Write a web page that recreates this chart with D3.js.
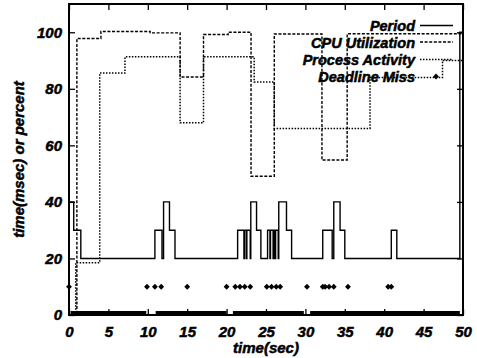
<!DOCTYPE html>
<html>
<head>
<meta charset="utf-8">
<script src="https://cdn.jsdelivr.net/npm/d3@7"></script>
<style>
  body { margin: 0; background: #fff; }
  svg { display: block; }
  text { font-family: "Liberation Sans", Arial, sans-serif; font-weight: bold; font-style: italic;
         stroke: #000; stroke-width: 0.5px; }
</style>
</head>
<body>
<div id="chart"></div>
<script>
const width = 477, height = 358;
const margin = { top: 4, right: 14, bottom: 43, left: 69 };

// step series: [time(sec), value] - value holds until the next point
const period = [[0,40],[0.6,30],[1.5,20],[10.9,30],[11.8,20],[12.0,40],[12.75,30],[13.45,20],
  [21.4,30],[22.2,20],[22.27,30],[22.5,20],[22.57,30],[23.0,20],[23.07,40],[23.8,30],[24.35,20],
  [25.2,30],[25.5,20],[25.57,30],[25.9,20],[25.97,30],[26.15,20],[26.22,30],[26.55,20],[26.62,40],
  [27.6,30],[28.25,20],[32.2,30],[33.4,20],[33.6,40],[34.4,30],[35.0,20],[40.9,30],[41.6,20],
  [49.6,100],[50,100]];
const cpu = [[0,0],[1.0,97.8],[4.05,100.3],[10.3,99.8],[14.1,84.2],[17.07,99.2],[20.2,100],
  [23.1,49.1],[26.05,99.4],[32.1,54.8],[35.3,99.5],[50,99.5]];
const activity = [[0,0],[0.85,18.5],[3.9,85.6],[7.1,91.3],[14.1,68],[17.07,91.3],[23.5,82.4],
  [26.05,66],[38.2,84],[47.4,90],[50,90]];
// deadline misses (plotted at 10) and stretches of met deadlines (plotted at 0)
const missTimes = [0, 9.9, 10.9, 11.7, 15.0, 20.0, 21.1, 21.7, 22.3, 23.0, 25.1, 25.7, 26.3, 26.8,
  30.2, 32.2, 32.5, 33.0, 33.6, 35.4, 40.5, 40.9];
const missValue = 10;
const metRanges = [[0.2, 9.8], [11.0, 20.0], [20.8, 29.8], [30.6, 49.6]];

const xTicks = [0, 5, 10, 15, 20, 25, 30, 35, 40, 45, 50];
const yTicks = [0, 20, 40, 60, 80, 100];
const legendLabels = ["Period", "CPU Utilization", "Process Activity", "Deadline Miss"];

const svg = d3.select("#chart").append("svg")
  .attr("width", width)
  .attr("height", height);

const x = d3.scaleLinear().domain([0, 50]).range([margin.left, width - margin.right]);
const y = d3.scaleLinear().domain([0, 110]).range([height - margin.bottom, margin.top]);

svg.append("clipPath").attr("id", "plot")
  .append("rect")
  .attr("x", x(0)).attr("y", y(110))
  .attr("width", x(50) - x(0)).attr("height", y(0) - y(110));

// axes with inward ticks, mirrored on top and right
const styleAxis = g => {
  g.select(".domain").remove();
  g.selectAll(".tick line").attr("stroke", "#000").attr("stroke-width", 1.3);
  g.selectAll("text").attr("font-size", 15).attr("fill", "#000");
};
svg.append("g")
  .attr("transform", `translate(0,${y(0)})`)
  .call(d3.axisBottom(x).tickValues(xTicks).tickSize(-6).tickPadding(11))
  .call(styleAxis);
svg.append("g")
  .attr("transform", `translate(0,${y(110)})`)
  .call(d3.axisTop(x).tickValues(xTicks).tickSize(-6).tickFormat(""))
  .call(styleAxis);
svg.append("g")
  .attr("transform", `translate(${x(0)},0)`)
  .call(d3.axisLeft(y).tickValues(yTicks).tickSize(-6).tickPadding(7))
  .call(styleAxis);
svg.append("g")
  .attr("transform", `translate(${x(50)},0)`)
  .call(d3.axisRight(y).tickValues(yTicks).tickSize(-6).tickFormat(""))
  .call(styleAxis);

const line = d3.line()
  .x(d => x(d[0]))
  .y(d => y(d[1]))
  .curve(d3.curveStepAfter);

const plot = svg.append("g").attr("clip-path", "url(#plot)");

plot.append("path").datum(activity)
  .attr("d", line).attr("fill", "none").attr("stroke", "#000")
  .attr("stroke-width", 1.5).attr("stroke-dasharray", "1.5,1.5");
plot.append("path").datum(cpu)
  .attr("d", line).attr("fill", "none").attr("stroke", "#000")
  .attr("stroke-width", 1.4).attr("stroke-dasharray", "3,1.6");
plot.append("path").datum(period)
  .attr("d", line).attr("fill", "none").attr("stroke", "#000")
  .attr("stroke-width", 1.4);

// met deadlines: dense points at 0 read as a heavy band
plot.selectAll(".met")
  .data(metRanges)
  .join("line")
  .attr("x1", d => x(d[0])).attr("x2", d => x(d[1]))
  .attr("y1", y(0) - 1.5).attr("y2", y(0) - 1.5)
  .attr("stroke", "#000").attr("stroke-width", 5);

const diamond = d3.symbol(d3.symbolDiamond2).size(22);
svg.selectAll(".miss")
  .data(missTimes)
  .join("path")
  .attr("transform", d => `translate(${x(d)},${y(missValue)})`)
  .attr("d", diamond)
  .attr("fill", "#000");

// frame
svg.append("rect")
  .attr("x", x(0)).attr("y", y(110))
  .attr("width", x(50) - x(0)).attr("height", y(0) - y(110))
  .attr("fill", "none").attr("stroke", "#000").attr("stroke-width", 2);

// axis titles
svg.append("text")
  .attr("x", (x(0) + x(50)) / 2).attr("y", 353)
  .attr("text-anchor", "middle").attr("font-size", 15)
  .text("time(sec)");
svg.append("text")
  .attr("transform", `translate(24,${(y(0) + y(110)) / 2}) rotate(-90)`)
  .attr("text-anchor", "middle").attr("font-size", 15)
  .text("time(msec) or percent");

// legend
const rowY = [25.5, 42, 59.5, 76.5];
const dashes = [null, "3,1.6", "1.5,1.5"];
const legend = svg.append("g");
legendLabels.forEach((label, i) => {
  legend.append("text")
    .attr("x", 415).attr("y", rowY[i] + 5.5)
    .attr("text-anchor", "end").attr("font-size", 14.5)
    .text(label);
  if (i < 3) {
    legend.append("line")
      .attr("x1", 420).attr("x2", 453)
      .attr("y1", rowY[i]).attr("y2", rowY[i])
      .attr("stroke", "#000").attr("stroke-width", 1.4)
      .attr("stroke-dasharray", dashes[i]);
  } else {
    legend.append("path")
      .attr("transform", `translate(436,${rowY[i]})`)
      .attr("d", diamond).attr("fill", "#000");
  }
});
</script>
</body>
</html>
